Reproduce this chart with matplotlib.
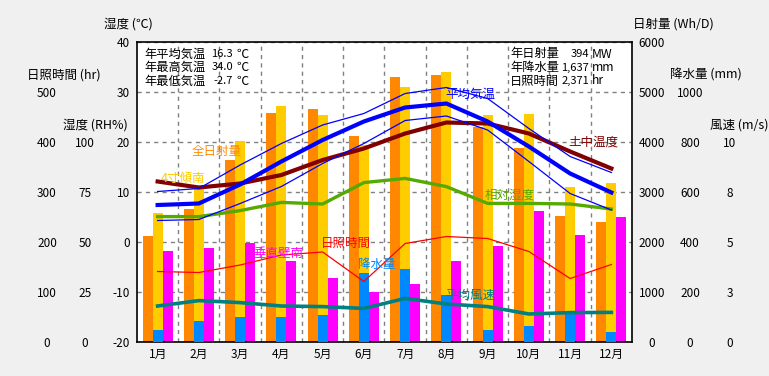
import numpy as np
import matplotlib.pyplot as plt

plt.rcParams['font.family'] = ['Noto Sans CJK JP', 'DejaVu Sans']

months = ['1月', '2月', '3月', '4月', '5月', '6月', '7月', '8月', '9月', '10月', '11月', '12月']

# 日射量 (Wh/D)
zenjitsu = [2120, 2660, 3640, 4590, 4660, 4120, 5310, 5340, 4310, 3890, 2520, 2400]
keisha4 = [2580, 3070, 4020, 4720, 4540, 3940, 5110, 5410, 4540, 4560, 3110, 3180]
suichoku = [1820, 1890, 1990, 1630, 1290, 1000, 1170, 1630, 1920, 2620, 2140, 2510]
# 降水量 (mm)
kousui = [48, 84, 100, 100, 109, 277, 293, 188, 48, 65, 117, 40]
# 日照時間 (hr)
nissho = [141, 139, 154, 174, 180, 121, 197, 211, 207, 181, 127, 155]
# 相対湿度 (RH%)
shitsudo = [62.7, 62.7, 65.7, 69.8, 69.0, 79.7, 81.8, 77.7, 69.3, 69.3, 69.0, 66.5]
# 平均風速 (m/s)
fuusoku = [1.80, 2.07, 1.97, 1.80, 1.77, 1.68, 2.18, 1.90, 1.77, 1.40, 1.47, 1.48]
# 気温 (℃)
t_avg = [7.4, 7.7, 11.5, 16.1, 20.4, 24.1, 26.9, 27.7, 24.1, 19.1, 13.7, 9.9]
t_max = [10.1, 10.7, 15.4, 19.7, 23.4, 25.7, 29.7, 30.9, 28.7, 22.7, 17.1, 13.9]
t_min = [4.3, 4.5, 7.7, 11.1, 15.7, 19.7, 24.3, 25.2, 22.4, 16.1, 9.7, 6.4]
t_soil = [12.1, 10.9, 11.7, 13.4, 16.4, 18.7, 21.7, 23.9, 23.7, 21.7, 18.1, 14.7]

W, H = 769, 376
fig = plt.figure(figsize=(W / 100, H / 100), dpi=100, facecolor='#f0f0f0')


def px(x, y):
    return x / W, 1 - y / H


x = np.arange(len(months))
bw = 0.243
tfs = 8.5

# base axes: 日射量 (bars + grid)
ax = fig.add_axes([137 / W, 34 / H, 495 / W, 300 / H])
ax.set_facecolor('white')
ax.bar(x - bw, zenjitsu, bw, color='#ff8800', zorder=2)
ax.bar(x, keisha4, bw, color='#ffcc00', zorder=2)
ax.bar(x + bw, suichoku, bw, color='#ff00ff', zorder=2)
ax.set_xlim(-0.5, 11.5)
ax.set_ylim(0, 6000)
ax.set_xticks(x, months, fontsize=tfs)
ax.set_xticks(np.arange(0.5, 11.5), minor=True)
ax.tick_params(axis='x', which='both', length=0, pad=4)
ax.grid(True, which='minor', axis='x', color='#808080', linestyle=(0, (3, 3)), linewidth=1, zorder=1)
ax.grid(True, which='major', axis='y', color='#808080', linestyle=(0, (3, 3)), linewidth=1, zorder=1)
for s in ax.spines.values():
    s.set_color('black')
    s.set_linewidth(1.2)


def twin():
    a = ax.twinx()
    a.patch.set_visible(False)
    for s in a.spines.values():
        s.set_visible(False)
    a.tick_params(axis='y', length=0)
    return a


# 降水量
ax_r = twin()
ax_r.bar(x, kousui, bw, color='#0088ff')
ax_r.set_ylim(0, 1200)
ax_r.set_yticks(np.arange(0, 1001, 200), [str(v) for v in range(0, 1001, 200)], ha='center', fontsize=tfs)
ax_r.tick_params(axis='y', pad=41.8)

# 日照時間
ax_h = twin()
ax_h.plot(x, nissho, color='#ff0000', linewidth=0.9)
ax_h.set_ylim(0, 600)
ax_h.yaxis.tick_left()
ax_h.set_yticks(np.arange(0, 501, 100), [str(v) for v in range(0, 501, 100)], ha='center', fontsize=tfs)
ax_h.tick_params(axis='y', pad=64.8)

# 相対湿度
ax_rh = twin()
ax_rh.plot(x, shitsudo, color='#55aa00', linewidth=2.4)
ax_rh.set_ylim(0, 150)
ax_rh.yaxis.tick_left()
ax_rh.set_yticks(np.arange(0, 101, 25), [str(v) for v in range(0, 101, 25)], ha='center', fontsize=tfs)
ax_rh.tick_params(axis='y', pad=37.4)

# 平均風速
ax_ws = twin()
ax_ws.plot(x, fuusoku, color='#008080', linewidth=2.6)
ax_ws.set_ylim(0, 15)
ax_ws.set_yticks([0, 2.5, 5, 7.5, 10], ['0', '3', '5', '8', '10'], ha='center', fontsize=tfs)
ax_ws.tick_params(axis='y', pad=70.6)

# 気温
ax_t = twin()
ax_t.plot(x, t_soil, color='#800000', linewidth=3)
ax_t.plot(x, t_max, color='#0000ff', linewidth=0.9)
ax_t.plot(x, t_min, color='#0000ff', linewidth=0.9)
ax_t.plot(x, t_avg, color='#0000ff', linewidth=3)
ax_t.set_ylim(-20, 40)
ax_t.yaxis.tick_left()
ax_t.set_yticks(np.arange(-20, 41, 10), [str(v) for v in range(-20, 41, 10)], fontsize=tfs)
ax_t.tick_params(axis='y', pad=5)

# twinx moves the base ticks to the left, so put 日射量 back on the right
ax.yaxis.tick_right()
ax.set_yticks(np.arange(0, 6001, 1000), [str(v) for v in range(0, 6001, 1000)], ha='center', fontsize=tfs)
ax.tick_params(axis='y', length=0, pad=14.4)

# axis titles
fs = 9
fig.text(*px(128, 24), '湿度 (℃)', ha='center', va='center', fontsize=fs)
fig.text(*px(64, 75), '日照時間 (hr)', ha='center', va='center', fontsize=fs)
fig.text(*px(95, 125), '湿度 (RH%)', ha='center', va='center', fontsize=fs)
fig.text(*px(673, 24), '日射量 (Wh/D)', ha='center', va='center', fontsize=fs)
fig.text(*px(706, 75), '降水量 (mm)', ha='center', va='center', fontsize=fs)
fig.text(*px(739, 125), '風速 (m/s)', ha='center', va='center', fontsize=fs)

# annual stats
left_rows = [('年平均気温', '16.3', '℃'), ('年最高気温', '34.0', '℃'), ('年最低気温', '-2.7', '℃')]
right_rows = [('年日射量', '394', 'MW'), ('年降水量', '1,637', 'mm'), ('日照時間', '2,371', 'hr')]
for i, (a, b, c) in enumerate(left_rows):
    yy = 54 + i * 13.5
    fig.text(*px(144, yy), a, ha='left', va='center', fontsize=8.8)
    fig.text(*px(233, yy), b, ha='right', va='center', fontsize=8)
    fig.text(*px(236, yy), c, ha='left', va='center', fontsize=8.8)
for i, (a, b, c) in enumerate(right_rows):
    yy = 54 + i * 13.5
    fig.text(*px(510, yy), a, ha='left', va='center', fontsize=8.8)
    fig.text(*px(589, yy), b, ha='right', va='center', fontsize=8)
    fig.text(*px(592, yy), c, ha='left', va='center', fontsize=8.8)

# series labels
labels = [
    ('全日射量', 217, 152, '#ff8800'),
    ('4寸傾南', 183, 178, '#ffcc00'),
    ('垂直壁南', 278, 253, '#ff00ff'),
    ('日照時間', 346, 243, '#ff0000'),
    ('降水量', 377, 264, '#0088ff'),
    ('平均風速', 470, 295, '#008080'),
    ('相対湿度', 510, 195, '#55aa00'),
    ('平均気温', 470, 94, '#0000ff'),
    ('土中温度', 593, 142, '#800000'),
]
for txt, lx, ly, col in labels:
    fig.text(*px(lx, ly), txt, ha='center', va='center', fontsize=fs, color=col)

fig.savefig('out.png', dpi=100, facecolor=fig.get_facecolor())
